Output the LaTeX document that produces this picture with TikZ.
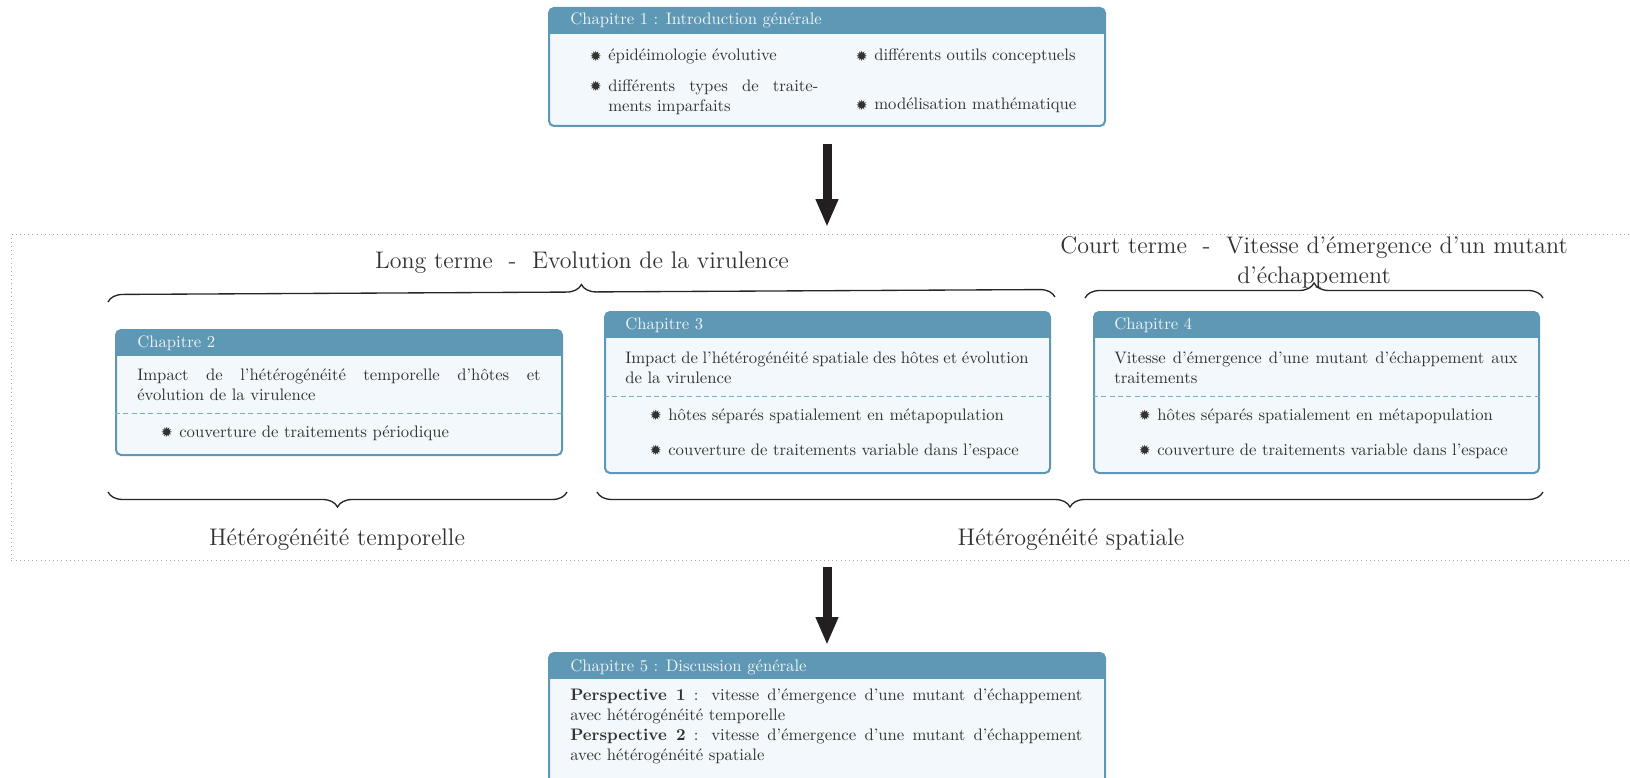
\documentclass[tikz,border=0pt]{standalone}
\usepackage{fontspec}
\newfontfamily\starfont{DejaVu Sans}
\usetikzlibrary{decorations.pathreplacing, arrows.meta}
\definecolor{chaphead}{RGB}{94,152,180}
\definecolor{chapbody}{RGB}{243,248,252}
\definecolor{chaptext}{RGB}{50,50,50}
\definecolor{headtext}{RGB}{240,244,248}
\definecolor{sepblue}{RGB}{120,175,205}
\definecolor{arrowgray}{RGB}{35,31,32}
\newcommand{\bul}{\llap{\raisebox{-0.3pt}{\starfont\fontsize{8.5}{8.5}\selectfont ✹}\hspace{4pt}}}

\begin{document}
\begin{tikzpicture}[
		x=0.6pt, y=-0.6pt,
		chap/.style={draw=chaphead, line width=1.2pt, fill=chapbody, rounded corners=3pt, anchor=north west, inner sep=0pt,
			path picture={\fill[chaphead, sharp corners] (path picture bounding box.north west) rectangle ([yshift=-15.8pt]path picture bounding box.north east);}},
		head/.style={anchor=base west, inner sep=0pt, text=headtext},
		desc/.style={anchor=north west, inner sep=0pt, text=chaptext, text width=242pt, align=justify},
		bulitem/.style={anchor=base west, inner sep=0pt, text=chaptext},
		dashsep/.style={draw=sepblue, dash pattern=on 3pt off 2pt, line width=0.6pt},
		bigtext/.style={font=\Large, text=chaptext, inner sep=0pt},
		bracedeco/.style={decorate, decoration={brace, amplitude=9pt}, line width=0.8pt, draw=black!85},
		arrow/.style={line width=5.4pt, draw=arrowgray, -{Triangle[length=16.8pt, width=12.6pt]}},
		dotframe/.style={draw=black!35, dotted, line width=0.5pt, anchor=north west, inner sep=0pt}
		]
		\useasboundingbox (0,0) rectangle (1630,778);
		\clip (0,0) rectangle (1630,778);
		
		% Chapitre 1
		\node[chap, minimum width=333.6pt, minimum height=70.8pt] (c1) at (548,7) {};
		\node[head] (c1h) at (570,25) {Chapitre 1 : Introduction générale};
		\node[bulitem] (c1a) at (608,61) {\bul épidéimologie évolutive};
		\node[desc, text width=126pt] (c1b) at (608,79.4) {\bul différents types de traite-\linebreak ments imparfaits};
		\node[bulitem] (c1c) at (874,61) {\bul différents outils conceptuels};
		\node[bulitem] (c1d) at (874,110) {\bul modélisation mathématique};
		
		% Cadre central
		\node[dotframe, minimum width=980pt, minimum height=195.6pt] (frm) at (11,234) {};
		
		% Chapitre 2
		\node[chap, minimum width=267.6pt, minimum height=75pt] (c2) at (115,329) {};
		\node[head] (c2h) at (137,347) {Chapitre 2};
		\node[desc] (c2d) at (137,368.4) {Impact de l’hétérogénéité temporelle d’hôtes et\linebreak évolution de la virulence};
		\draw[dashsep] ([yshift=-50.4pt]c2.north west) -- ([yshift=-50.4pt]c2.north east);
		\node[bulitem] (c2l) at (179,437) {\bul couverture de traitements périodique};
		
		% Chapitre 3
		\node[chap, minimum width=267pt, minimum height=96.6pt] (c3) at (604,311) {};
		\node[head] (c3h) at (625,329) {Chapitre 3};
		\node[desc] (c3d) at (625,351.4) {Impact de l’hétérogénéité spatiale des hôtes et évolution\linebreak de la virulence};
		\draw[dashsep] ([yshift=-51pt]c3.north west) -- ([yshift=-51pt]c3.north east);
		\node[bulitem] (c3a) at (668,420) {\bul hôtes séparés spatialement en métapopulation};
		\node[bulitem] (c3b) at (668,455) {\bul couverture de traitements variable dans l’espace};
		
		% Chapitre 4
		\node[chap, minimum width=267pt, minimum height=96.6pt] (c4) at (1093,311) {};
		\node[head] (c4h) at (1114,329) {Chapitre 4};
		\node[desc] (c4d) at (1114,351.4) {Vitesse d’émergence d’une mutant d’échappement aux\linebreak traitements};
		\draw[dashsep] ([yshift=-51pt]c4.north west) -- ([yshift=-51pt]c4.north east);
		\node[bulitem] (c4a) at (1157,420) {\bul hôtes séparés spatialement en métapopulation};
		\node[bulitem] (c4b) at (1157,455) {\bul couverture de traitements variable dans l’espace};
		
		% Chapitre 5
		\node[chap, minimum width=333.6pt, minimum height=84pt] (c5) at (548,652) {};
		\node[head] (c5h) at (570,671) {Chapitre 5 : Discussion générale};
		\node[desc, text width=307.2pt] (c5d) at (570,688.4) {\textbf{Perspective 1} : vitesse d’émergence d’une mutant d’échappement\linebreak avec hétérogénéité temporelle\\
			\textbf{Perspective 2} : vitesse d’émergence d’une mutant d’échappement\linebreak avec hétérogénéité spatiale};
		
		% Titres
		\node[bigtext, anchor=base] (lt) at (582,268) {Long terme\ \ -\ \ Evolution de la virulence};
		\node[bigtext, anchor=north, align=center] (ct) at (1314,236) {Court terme\ \ -\ \ Vitesse d’émergence d’un mutant\\d’échappement};
		\node[bigtext, anchor=base] (ht) at (337,545) {Hétérogénéité temporelle};
		\node[bigtext, anchor=base] (hs) at (1071,545) {Hétérogénéité spatiale};
		
		% Accolades
		\coordinate (b1a) at (108,302);
		\coordinate (b1b) at (1055,297);
		\coordinate (b2a) at (1085,298);
		\coordinate (b2b) at (1543,298);
		\coordinate (b3a) at (567,492);
		\coordinate (b3b) at (108,492);
		\coordinate (b4a) at (1543,492);
		\coordinate (b4b) at (597,492);
		\draw[bracedeco] (b1a) -- (b1b);
		\draw[bracedeco] (b2a) -- (b2b);
		\draw[bracedeco] (b3a) -- (b3b);
		\draw[bracedeco] (b4a) -- (b4b);
		
		% Fleches
		\draw[arrow, shorten <=10.2pt, shorten >=4.2pt] (c1.south) -- (c1.south |- frm.north);
		\draw[arrow, shorten <=3.6pt, shorten >=4.2pt] (c5.north |- frm.south) -- (c5.north);
		
	\end{tikzpicture}
\end{document}
